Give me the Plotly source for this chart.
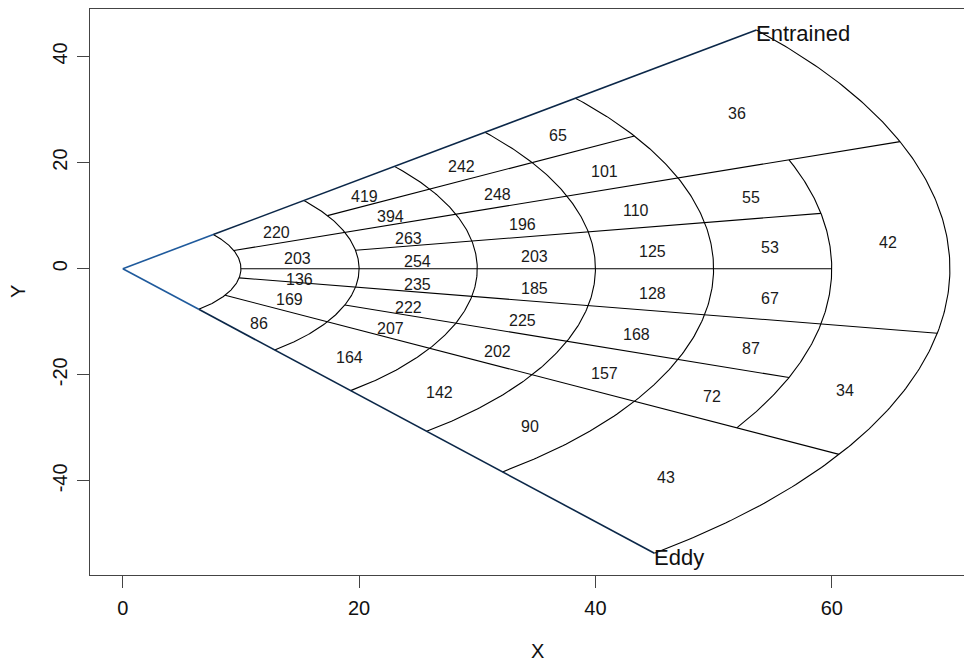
import numpy as np
import plotly.graph_objects as go

# ---- data: cells of the fan (radii, angles in degrees, counts) ----
cell_r_in = [10, 10, 10, 10, 10,
             20, 20, 20, 20, 20, 20, 20, 20,
             30, 30, 30, 30, 30, 30, 30, 30,
             40, 40, 40, 40, 40, 40, 40, 40,
             50, 50, 50, 50, 50, 50, 50,
             60, 60]
cell_r_out = [20, 20, 20, 20, 20,
              30, 30, 30, 30, 30, 30, 30, 30,
              40, 40, 40, 40, 40, 40, 40, 40,
              50, 50, 50, 50, 50, 50, 50, 50,
              70, 60, 60, 60, 60, 60, 70,
              70, 70]
cell_a_lo = [20, 0, -10, -30, -50,
             30, 20, 10, 0, -10, -20, -30, -50,
             30, 20, 10, 0, -10, -20, -30, -50,
             30, 20, 10, 0, -10, -20, -30, -50,
             20, 10, 0, -10, -20, -30, -50,
             -10, -30]
cell_a_hi = [40, 20, 0, -10, -30,
             40, 30, 20, 10, 0, -10, -20, -30,
             40, 30, 20, 10, 0, -10, -20, -30,
             40, 30, 20, 10, 0, -10, -20, -30,
             40, 20, 10, 0, -10, -20, -30,
             20, -10]
counts = [220, 203, 136, 169, 86,
          419, 394, 263, 254, 235, 222, 207, 164,
          242, 248, 196, 203, 185, 225, 202, 142,
          65, 101, 110, 125, 128, 168, 157, 90,
          36, 55, 53, 67, 87, 72, 43,
          42, 34]

# rays: angle, start radius, end radius
ray_angle = [40, -50, 30, 20, 10, 0, -10, -20, -30]
ray_r0 = [10, 10, 20, 10, 20, 10, 10, 20, 10]
ray_r1 = [70, 70, 50, 70, 60, 60, 70, 60, 70]
# arcs: radius, start angle, end angle
arc_r = [10, 20, 30, 40, 50, 60, 70]
arc_a0 = [-50, -50, -50, -50, -50, -30, -50]
arc_a1 = [40, 40, 40, 40, 40, 20, 40]
# outer edges from origin
edge_angle = [40, -50]
edge_labels = ["Entrained", "Eddy"]
outer_r = 70

x_ticks = [0, 20, 40, 60]
y_ticks = [-40, -20, 0, 20, 40]
x_ticktext = ["0", "20", "40", "60"]
y_ticktext = ["-40", "-20", "0", "20", "40"]

FONT = "Liberation Sans, Arial, Helvetica, sans-serif"
d2r = np.pi / 180

fig = go.Figure()

# black grid lines (rays + arcs)
lx, ly = [], []
for a, r0, r1 in zip(ray_angle, ray_r0, ray_r1):
    if a in edge_angle:
        continue
    lx += [r0 * np.cos(a * d2r), r1 * np.cos(a * d2r), None]
    ly += [r0 * np.sin(a * d2r), r1 * np.sin(a * d2r), None]
for r, a0, a1 in zip(arc_r, arc_a0, arc_a1):
    t = np.linspace(a0, a1, 200) * d2r
    lx += list(r * np.cos(t)) + [None]
    ly += list(r * np.sin(t)) + [None]
fig.add_trace(go.Scatter(x=lx, y=ly, mode="lines",
                         line=dict(color="black", width=1.1),
                         hoverinfo="skip", showlegend=False))

# boundary edges: blue near origin, navy (blue + black overlap) further out
bx, by, nx, ny = [], [], [], []
for a, r0, r1 in zip(ray_angle, ray_r0, ray_r1):
    if a not in edge_angle:
        continue
    bx += [0, r0 * np.cos(a * d2r), None]
    by += [0, r0 * np.sin(a * d2r), None]
    nx += [r0 * np.cos(a * d2r), r1 * np.cos(a * d2r), None]
    ny += [r0 * np.sin(a * d2r), r1 * np.sin(a * d2r), None]
fig.add_trace(go.Scatter(x=bx, y=by, mode="lines",
                         line=dict(color="#1f5a9c", width=1.6),
                         hoverinfo="skip", showlegend=False))
fig.add_trace(go.Scatter(x=nx, y=ny, mode="lines",
                         line=dict(color="#0b2748", width=1.6),
                         hoverinfo="skip", showlegend=False))

# cell counts at polar centres
rm = (np.array(cell_r_in) + np.array(cell_r_out)) / 2
am = (np.array(cell_a_lo) + np.array(cell_a_hi)) / 2 * d2r
for xv, yv, c in zip(rm * np.cos(am), rm * np.sin(am), counts):
    fig.add_annotation(x=xv, y=yv, text=str(c), showarrow=False,
                       xanchor="center", yanchor="middle", yshift=-4,
                       font=dict(family=FONT, size=16, color="#1a1a1a"))

# edge labels
for a, lab in zip(edge_angle, edge_labels):
    fig.add_annotation(x=outer_r * np.cos(a * d2r), y=outer_r * np.sin(a * d2r),
                       text=lab, showarrow=False, xanchor="left", yanchor="middle",
                       yshift=-4, xshift=-2,
                       font=dict(family=FONT, size=22, color="#111"))

# page body has an 8px margin: build the figure 8px smaller and offset
OFF = 8
W, H = 972 - OFF, 662 - OFF
ML, MT, MB = 90 - OFF, 1, H - (575 - OFF)
pw, ph = W - ML, H - MT - MB

fig.update_layout(
    width=W, height=H,
    margin=dict(l=ML, r=0, t=MT, b=MB, pad=0),
    paper_bgcolor="white", plot_bgcolor="white",
    font=dict(family=FONT, size=20, color="#111"),
    xaxis=dict(range=[-2.776, 71.87], tickvals=x_ticks, ticktext=x_ticktext,
               ticks="outside", ticklen=12,
               tickcolor="#444", showline=True, linecolor="#444", linewidth=1,
               mirror=True, showgrid=False, zeroline=False,
               tickfont=dict(family=FONT, size=20, color="#111"),
               ticklabelstandoff=3),
    yaxis=dict(range=[-57.73, 48.94], tickvals=y_ticks, ticktext=y_ticktext,
               ticks="outside", ticklen=12,
               tickcolor="#444", showline=True, linecolor="#444", linewidth=1,
               mirror=False, showgrid=False, zeroline=False, tickangle=-90,
               tickfont=dict(family=FONT, size=20, color="#111"),
               ticklabelstandoff=2),
)


# axis titles placed at their pixel positions (screen coords -> paper coords)
def paper_x(px):
    return (px - OFF - ML) / pw


def paper_y(py):
    return (H - MB - (py - OFF)) / ph


fig.add_annotation(x=paper_x(537), y=paper_y(650.5), xref="paper", yref="paper",
                   text="X", showarrow=False, xanchor="center", yanchor="middle",
                   font=dict(family=FONT, size=20, color="#111"))
fig.add_annotation(x=paper_x(18), y=paper_y(292), xref="paper", yref="paper",
                   text="Y", showarrow=False, textangle=-90, xanchor="center",
                   yanchor="middle", borderpad=0,
                   font=dict(family=FONT, size=20, color="#111"))

fig.write_html("out.html")
